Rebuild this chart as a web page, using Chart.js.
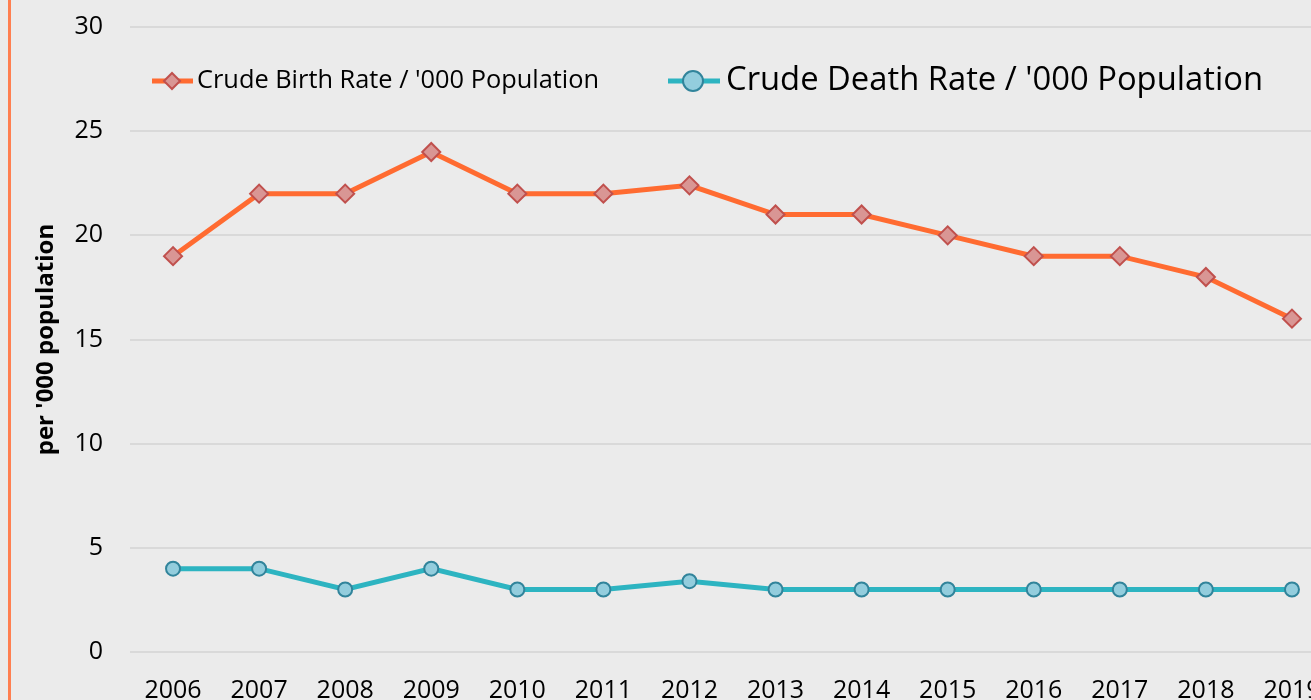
<!DOCTYPE html>
<html>
<head>
<meta charset="utf-8">
<script src="https://cdn.jsdelivr.net/npm/chart.js@4.4.1/dist/chart.umd.min.js"></script>
<style>
  html, body { margin: 0; padding: 0; background: #ebebeb; overflow: hidden; }
  #wrap { position: absolute; left: 0; top: -15px; width: 1346px; height: 735px; }
  #edge { position: absolute; left: 8px; top: 0; width: 3px; height: 700px; background: #ff7f50; }
</style>
</head>
<body>
<div id="wrap"><canvas id="rateChart"></canvas></div>
<div id="edge"></div>
<script>
const years = ['2006', '2007', '2008', '2009', '2010', '2011', '2012', '2013', '2014', '2015', '2016', '2017', '2018', '2019'];
const birthRate = [19, 22, 22, 24, 22, 22, 22.4, 21, 21, 20, 19, 19, 18, 16];
const deathRate = [4, 4, 3, 4, 3, 3, 3.4, 3, 3, 3, 3, 3, 3, 3];
const yMin = 0, yMax = 30, yStep = 5;
const seriesNames = ["Crude Birth Rate / '000 Population", "Crude Death Rate / '000 Population"];
const yTitle = "per '000 population";

const orange = '#ff6b31';
const teal = '#2db4c1';

// legend sits inside the plot, with two different text sizes, so it is drawn by hand
const insideLegend = {
    id: 'insideLegend',
    afterDraw(chart) {
        const ctx = chart.ctx;
        const L = chart.chartArea.left;
        const y = chart.chartArea.top + 54;
        const items = [
            { x0: L + 22, x1: L + 63, cx: L + 42, tx: L + 67, tw: 402, color: orange,
              style: 'rectRot', r: 8, fill: '#d99694', stroke: '#c0504d', label: seriesNames[0] },
            { x0: L + 538, x1: L + 590, cx: L + 563, tx: L + 596, tw: 537, color: teal,
              style: 'circle', r: 10, fill: '#93cddd', stroke: '#31849b', label: seriesNames[1] }
        ];
        ctx.save();
        items.forEach(it => {
            ctx.strokeStyle = it.color;
            ctx.lineWidth = 5;
            ctx.beginPath();
            ctx.moveTo(it.x0, y);
            ctx.lineTo(it.x1, y);
            ctx.stroke();
            ctx.fillStyle = it.fill;
            ctx.strokeStyle = it.stroke;
            ctx.lineWidth = 2;
            Chart.helpers.drawPoint(ctx, { pointStyle: it.style, radius: it.r, borderWidth: 2 }, it.cx, y);
            ctx.font = '100px "Open Sans"';
            const size = 100 * it.tw / ctx.measureText(it.label).width;
            ctx.font = size.toFixed(2) + 'px "Open Sans"';
            ctx.fillStyle = '#000';
            ctx.textBaseline = 'middle';
            ctx.textAlign = 'left';
            ctx.fillText(it.label, it.tx, y);
        });
        ctx.restore();
    }
};

const ctx = document.getElementById('rateChart').getContext('2d');
const rateChart = new Chart(ctx, {
    type: 'line',
    data: {
        labels: years,
        datasets: [{
            label: seriesNames[0],
            data: birthRate,
            borderColor: orange,
            borderWidth: 5,
            pointStyle: 'rectRot',
            pointRadius: 9,
            pointBackgroundColor: '#d99694',
            pointBorderColor: '#c0504d',
            pointBorderWidth: 2,
            tension: 0
        }, {
            label: seriesNames[1],
            data: deathRate,
            borderColor: teal,
            borderWidth: 5,
            pointStyle: 'circle',
            pointRadius: 7,
            pointBackgroundColor: '#93cddd',
            pointBorderColor: '#31849b',
            pointBorderWidth: 2,
            tension: 0
        }]
    },
    options: {
        responsive: true,
        maintainAspectRatio: false,
        animation: false,
        devicePixelRatio: 1,
        layout: { padding: { top: 11, right: 6, bottom: 0, left: 0 } },
        plugins: {
            legend: { display: false },
            tooltip: { enabled: false }
        },
        scales: {
            x: {
                offset: true,
                grid: { display: false },
                border: { display: false },
                ticks: {
                    color: '#000',
                    font: { family: 'Open Sans', size: 25 },
                    padding: 16,
                    maxRotation: 0,
                    autoSkip: false
                },
                afterFit(scale) { scale.height = 68; }
            },
            y: {
                min: yMin,
                max: yMax,
                grid: { color: '#d9d9d9', lineWidth: 2, drawTicks: false },
                border: { display: false },
                ticks: {
                    stepSize: yStep,
                    color: '#000',
                    font: { family: 'Open Sans', size: 25 },
                    padding: 27
                },
                title: {
                    display: true,
                    text: yTitle,
                    color: '#000',
                    font: { family: 'Open Sans', size: 24, weight: 'bold' },
                    padding: { top: 32, bottom: 0 }
                },
                afterFit(scale) { scale.width = 130; }
            }
        }
    },
    plugins: [insideLegend]
});
</script>
</body>
</html>
